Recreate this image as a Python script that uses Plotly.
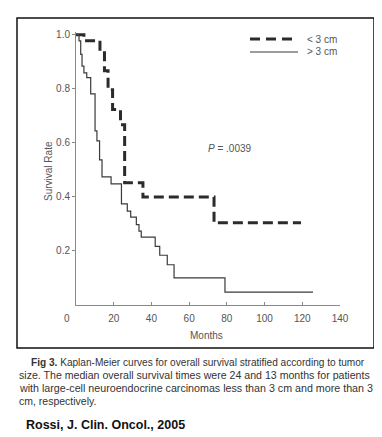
import plotly.graph_objects as go

# ---- data ----
small_months = [0, 4.2, 12.7, 15.1, 17.0, 19.4, 23.6, 25.8, 35.5, 73.2, 119.3]
small_surv = [1.0, 0.978, 0.940, 0.867, 0.796, 0.723, 0.667, 0.452, 0.400, 0.304, 0.304]

large_months = [0, 1.6, 2.5, 3.2, 4.2, 5.7, 7.8, 10.1, 11.1, 12.5, 13.8, 18.6, 24.1,
                27.2, 29.0, 32.0, 33.4, 34.6, 42.0, 44.4, 48.4, 52.0, 79.0, 125.7]
large_surv = [1.0, 0.977, 0.927, 0.884, 0.859, 0.841, 0.781, 0.644, 0.607, 0.537, 0.474,
              0.448, 0.374, 0.347, 0.325, 0.297, 0.273, 0.251, 0.217, 0.184, 0.149,
              0.100, 0.048, 0.048]

x_ticks = [20, 40, 60, 80, 100, 120, 140]
y_ticks = [0.2, 0.4, 0.6, 0.8, 1.0]
y_tick_labels = ["0.2", "0.4", "0.6", "0.8", "1.0"]
series_names = ["< 3 cm", "> 3 cm"]

FONT = "Liberation Sans, Arial, Helvetica, sans-serif"
W, H = 382, 437
L, R, T, B = 68, 50, 24, 140
PW, PH = W - L - R, H - T - B


def px(xp):
    return (xp - L) / PW


def py(yp):
    return (H - B - yp) / PH


fig = go.Figure()
fig.add_trace(go.Scatter(x=small_months, y=small_surv, mode="lines", line_shape="hv",
                         name=series_names[0],
                         line=dict(color="#2b2b2b", width=3, dash="10px,5px")))
fig.add_trace(go.Scatter(x=large_months, y=large_surv, mode="lines", line_shape="hv",
                         name=series_names[1],
                         line=dict(color="#3a3a3a", width=1.2)))

shapes = [
    # outer frame
    dict(type="rect", xref="paper", yref="paper", x0=px(9), x1=px(366), y0=py(340), y1=py(10),
         line=dict(color="#111", width=1.5), fillcolor="rgba(0,0,0,0)", layer="below"),
    # legend samples
    dict(type="line", xref="paper", yref="paper", x0=px(242), x1=px(290), y0=py(31), y1=py(31),
         line=dict(color="#2b2b2b", width=3, dash="10px,6px")),
    dict(type="line", xref="paper", yref="paper", x0=px(242), x1=px(290), y0=py(44), y1=py(44),
         line=dict(color="#3a3a3a", width=1)),
]

ann = []


def add_text(text, xp, yp, size=10, color="#555", xanchor="left", bold=False, **kw):
    if bold:
        text = "<b>" + text + "</b>"
    ann.append(dict(text=text, xref="paper", yref="paper", x=px(xp), y=py(yp),
                    xanchor=xanchor, yanchor="middle", showarrow=False,
                    font=dict(family=FONT, size=size, color=color), **kw))


add_text(series_names[0], 297, 31, size=10)
add_text(series_names[1], 297, 44, size=10)
add_text("<i>P</i> = .0039", 198, 140, size=10)
add_text("0", 59, 310, size=10, xanchor="center")
add_text("Months", 198, 327, size=10, xanchor="center")
add_text("Survival Rate", 40, 163, size=10, xanchor="center", textangle=-90)

cap_color = "#333"
add_text("<b>Fig 3.</b> Kaplan-Meier curves for overall survival stratified according to tumor",
         21, 354, size=10.1, color=cap_color)
add_text("size. The median overall survival times were 24 and 13 months for patients",
         9, 367, size=10.6, color=cap_color)
add_text("with large-cell neuroendocrine carcinomas less than 3 cm and more than 3",
         9, 380, size=10.7, color=cap_color)
add_text("cm, respectively.", 9, 393, size=10.5, color=cap_color)
add_text("Rossi, J. Clin. Oncol., 2005", 16, 417, size=12.5, color="#111", bold=True)

fig.update_layout(
    width=W, height=H,
    margin=dict(l=L, r=R, t=T, b=B, pad=0),
    paper_bgcolor="white", plot_bgcolor="white",
    showlegend=False,
    shapes=shapes, annotations=ann,
    font=dict(family=FONT, size=10, color="#555"),
)
fig.update_xaxes(range=[0, 140], tickvals=x_ticks, ticktext=[str(v) for v in x_ticks],
                 showline=True, linecolor="#8a8a8a", linewidth=1, ticks="inside",
                 ticklen=3, tickcolor="#8a8a8a", showgrid=False, zeroline=False,
                 tickfont=dict(family=FONT, size=10, color="#555"), ticklabelstandoff=4)
fig.update_yaxes(range=[0, 1.01], tickvals=y_ticks, ticktext=y_tick_labels,
                 showline=True, linecolor="#8a8a8a", linewidth=1, ticks="outside",
                 ticklen=3, tickcolor="#8a8a8a", showgrid=False, zeroline=False,
                 tickfont=dict(family=FONT, size=10, color="#555"))

fig.write_html("out.html")
